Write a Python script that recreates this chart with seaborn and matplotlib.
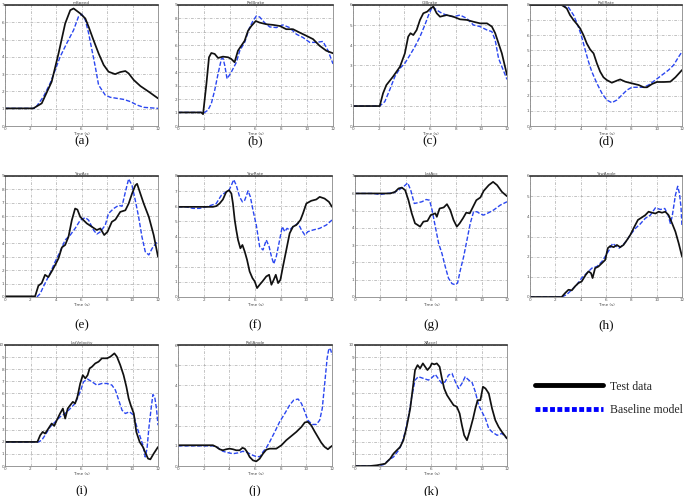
import numpy as np
import pandas as pd
import matplotlib
matplotlib.use("Agg")
import matplotlib.pyplot as plt
from matplotlib.lines import Line2D
import seaborn as sns

# ---------------- data (x in time-grid units 0..6, y in grid units) ----------------
panel_letters = ["a", "b", "c", "d", "e", "f", "g", "h", "i", "j", "k"]
panel_titles = ["mSpeed", "RelBrake", "GiBrake", "RollRate", "YawAcc", "YawRate",
                "LatAcc", "YawAngle", "LatVelocity", "RollAngle", "XAccel"]
y_max = [7, 9, 6, 8, 9, 8, 7, 6, 10, 6, 10]
x_tick_labels = ["0", "2", "4", "6", "8", "10", "12"]
x_label = "Time (s)"

a_x_test = [0, 1.11, 1.44, 1.83, 2.10, 2.36, 2.56, 2.69, 2.95, 3.15, 3.28, 3.47, 3.67, 3.87, 4.06, 4.32, 4.52, 4.72, 4.85, 5.05, 5.31, 5.64, 6.0]
a_y_test = [1.02, 1.02, 1.31, 2.56, 4.2, 5.93, 6.7, 6.8, 6.51, 6.22, 5.74, 4.97, 4.2, 3.53, 3.14, 3.0, 3.12, 3.18, 3.04, 2.66, 2.31, 1.98, 1.6]
a_x_base = [0, 1.18, 1.51, 1.77, 1.97, 2.16, 2.42, 2.69, 2.88, 3.01, 3.15, 3.28, 3.41, 3.54, 3.67, 3.8, 3.93, 4.13, 4.39, 4.65, 4.92, 5.18, 5.44, 6.0]
a_y_base = [1.02, 1.02, 1.7, 2.47, 3.24, 4.0, 4.78, 5.55, 6.32, 6.47, 6.13, 5.36, 4.39, 3.43, 2.37, 2.08, 1.79, 1.66, 1.6, 1.54, 1.41, 1.21, 1.08, 1.02]

b_x_test = [0, 0.9, 0.97, 1.1, 1.2, 1.29, 1.42, 1.55, 1.74, 1.94, 2.06, 2.19, 2.32, 2.45, 2.58, 2.71, 2.84, 3.01, 3.16, 3.42, 3.68, 3.94, 4.19, 4.45, 4.71, 4.97, 5.23, 5.48, 5.74, 6.0]
b_y_test = [1.01, 1.01, 0.88, 3.14, 5.11, 5.43, 5.36, 5.06, 5.16, 5.11, 4.99, 4.74, 5.6, 5.97, 6.34, 7.08, 7.44, 7.81, 7.69, 7.57, 7.52, 7.44, 7.2, 7.2, 6.95, 6.71, 6.46, 5.97, 5.6, 5.41]
b_x_base = [0, 1.03, 1.16, 1.29, 1.42, 1.55, 1.68, 1.74, 1.81, 1.9, 2.06, 2.26, 2.39, 2.58, 2.77, 2.9, 3.03, 3.16, 3.35, 3.55, 3.81, 4.06, 4.32, 4.58, 4.84, 5.1, 5.35, 5.61, 5.81, 6.0]
b_y_base = [1.01, 1.01, 1.18, 1.67, 2.65, 3.88, 4.99, 5.06, 4.5, 3.51, 4.0, 4.74, 5.6, 6.22, 7.32, 7.81, 8.18, 8.11, 7.69, 7.37, 7.32, 7.52, 7.32, 6.83, 6.58, 6.22, 6.22, 6.29, 5.6, 4.62]

c_x_test = [0, 1.04, 1.17, 1.3, 1.56, 1.83, 2.02, 2.15, 2.24, 2.35, 2.48, 2.61, 2.74, 2.89, 3.02, 3.13, 3.26, 3.39, 3.65, 3.91, 4.17, 4.43, 4.69, 4.95, 5.22, 5.41, 5.54, 5.67, 5.8, 6.0]
c_y_test = [0.99, 0.99, 1.62, 2.03, 2.45, 2.94, 3.6, 4.43, 4.6, 4.51, 4.76, 5.26, 5.59, 5.67, 5.83, 5.92, 5.59, 5.42, 5.5, 5.42, 5.29, 5.26, 5.17, 5.09, 5.09, 4.93, 4.6, 4.1, 3.6, 2.53]
c_x_base = [0, 1.04, 1.24, 1.43, 1.63, 1.83, 2.02, 2.22, 2.41, 2.61, 2.8, 2.97, 3.1, 3.26, 3.46, 3.65, 3.91, 4.17, 4.43, 4.69, 4.95, 5.22, 5.41, 5.54, 5.67, 5.8, 6.0]
c_y_base = [0.99, 0.99, 1.21, 1.79, 2.45, 2.86, 3.11, 3.52, 3.93, 4.43, 5.01, 5.59, 5.92, 5.75, 5.59, 5.5, 5.42, 5.5, 5.34, 5.01, 4.93, 4.76, 4.68, 4.26, 3.36, 2.94, 2.31]

d_x_test = [0, 1.25, 1.45, 1.58, 1.72, 1.85, 1.98, 2.11, 2.24, 2.37, 2.51, 2.64, 2.77, 2.9, 3.03, 3.23, 3.43, 3.56, 3.76, 4.02, 4.29, 4.49, 4.62, 4.82, 5.01, 5.28, 5.54, 5.74, 6.0]
d_y_test = [8.0, 8.0, 7.78, 7.33, 7.0, 6.74, 6.45, 6.01, 5.46, 5.07, 4.8, 4.14, 3.59, 3.22, 3.04, 2.86, 3.0, 3.08, 2.93, 2.82, 2.71, 2.56, 2.56, 2.78, 2.91, 2.91, 2.93, 3.22, 3.7]
d_x_base = [0, 1.25, 1.52, 1.72, 1.91, 2.04, 2.18, 2.31, 2.44, 2.64, 2.84, 3.03, 3.23, 3.43, 3.63, 3.83, 4.02, 4.29, 4.49, 4.68, 4.95, 5.21, 5.47, 5.67, 5.87, 6.0]
d_y_base = [8.0, 8.0, 7.84, 7.33, 6.56, 5.9, 5.02, 4.25, 3.59, 2.82, 2.16, 1.72, 1.54, 1.72, 2.05, 2.38, 2.56, 2.56, 2.56, 2.71, 3.04, 3.37, 3.7, 4.03, 4.58, 4.91]

e_x_test = [0, 1.18, 1.31, 1.44, 1.57, 1.7, 1.83, 1.97, 2.1, 2.23, 2.36, 2.49, 2.62, 2.75, 2.84, 2.95, 3.08, 3.21, 3.41, 3.6, 3.74, 3.89, 4.02, 4.19, 4.33, 4.52, 4.72, 4.85, 4.98, 5.11, 5.18, 5.31, 5.44, 5.64, 5.83, 6.0]
e_y_test = [0.05, 0.05, 0.84, 1.03, 1.65, 1.48, 1.9, 2.39, 2.88, 3.69, 3.87, 4.48, 5.71, 6.58, 6.5, 5.96, 5.71, 5.47, 5.22, 4.98, 5.1, 4.61, 4.85, 5.59, 5.76, 6.33, 6.45, 6.95, 7.68, 8.3, 8.42, 7.68, 6.95, 5.96, 4.61, 3.0]
e_x_base = [0, 1.25, 1.38, 1.51, 1.64, 1.77, 1.97, 2.16, 2.36, 2.56, 2.75, 2.95, 3.15, 3.28, 3.47, 3.6, 3.74, 3.93, 4.06, 4.26, 4.46, 4.59, 4.72, 4.85, 4.98, 5.11, 5.24, 5.37, 5.5, 5.64, 5.77, 6.0]
e_y_base = [0, 0, 0.25, 0.79, 1.28, 1.77, 2.64, 3.37, 4.24, 4.61, 5.1, 5.71, 5.91, 5.71, 4.98, 4.68, 4.85, 5.34, 6.21, 6.58, 6.82, 6.75, 7.81, 8.79, 8.3, 7.19, 5.96, 4.48, 3.37, 3.13, 3.62, 4.19]

f_x_test = [0, 1.36, 1.49, 1.62, 1.75, 1.88, 1.99, 2.08, 2.14, 2.21, 2.27, 2.34, 2.43, 2.51, 2.6, 2.69, 2.79, 2.9, 2.99, 3.08, 3.18, 3.29, 3.44, 3.55, 3.64, 3.73, 3.81, 3.9, 3.99, 4.09, 4.22, 4.35, 4.48, 4.61, 4.77, 4.87, 5.0, 5.19, 5.39, 5.52, 5.71, 5.88, 6.0]
f_y_test = [5.96, 5.96, 6.01, 6.18, 6.45, 6.95, 7.06, 6.84, 6.18, 5.09, 4.43, 3.77, 3.22, 3.44, 3.0, 2.46, 1.69, 1.25, 1.03, 0.59, 0.81, 1.03, 1.36, 1.47, 0.81, 1.14, 1.47, 0.92, 1.14, 2.02, 3.11, 4.21, 4.65, 4.76, 5.09, 5.53, 6.18, 6.36, 6.45, 6.62, 6.51, 6.29, 5.96]
f_x_base = [0, 0.32, 0.58, 0.84, 1.1, 1.3, 1.49, 1.69, 1.88, 1.99, 2.08, 2.17, 2.27, 2.4, 2.51, 2.6, 2.73, 2.82, 2.92, 3.05, 3.18, 3.31, 3.44, 3.55, 3.64, 3.73, 3.83, 3.96, 4.06, 4.16, 4.25, 4.35, 4.48, 4.68, 4.81, 4.94, 5.06, 5.26, 5.52, 5.78, 6.0]
f_y_base = [5.96, 5.96, 5.86, 5.86, 5.96, 6.07, 6.18, 6.73, 6.95, 7.06, 7.39, 7.76, 7.39, 6.62, 6.29, 6.4, 7.02, 6.62, 5.75, 4.76, 3.33, 3.11, 3.77, 3.33, 2.68, 2.19, 2.68, 3.77, 4.65, 4.32, 4.54, 4.43, 4.65, 4.87, 4.43, 4.1, 4.32, 4.43, 4.54, 4.76, 5.09]

g_x_test = [0, 1.39, 1.58, 1.72, 1.85, 1.98, 2.11, 2.24, 2.37, 2.47, 2.57, 2.7, 2.86, 2.99, 3.17, 3.23, 3.34, 3.5, 3.63, 3.76, 3.89, 4.02, 4.13, 4.26, 4.39, 4.53, 4.66, 4.79, 4.95, 5.08, 5.28, 5.45, 5.61, 5.8, 6.0]
g_y_test = [5.99, 5.99, 6.08, 6.28, 6.33, 6.18, 5.6, 4.84, 4.26, 4.17, 4.07, 4.36, 4.4, 4.74, 4.84, 4.64, 5.12, 5.18, 5.37, 5.03, 4.45, 4.07, 4.26, 4.55, 4.88, 4.84, 5.22, 5.6, 5.76, 6.14, 6.47, 6.66, 6.47, 6.08, 5.83]
g_x_base = [0, 0.73, 0.99, 1.25, 1.52, 1.72, 1.91, 2.08, 2.2, 2.34, 2.47, 2.64, 2.81, 2.94, 3.03, 3.17, 3.3, 3.43, 3.56, 3.69, 3.83, 3.96, 4.05, 4.16, 4.29, 4.42, 4.55, 4.68, 4.82, 4.95, 5.08, 5.28, 5.47, 5.74, 6.0]
g_y_base = [5.99, 5.99, 5.93, 5.99, 6.03, 6.18, 6.37, 6.6, 6.18, 5.41, 5.45, 5.51, 5.64, 5.6, 5.12, 4.07, 3.11, 2.53, 1.77, 1.09, 0.77, 0.71, 0.81, 1.57, 2.34, 3.3, 4.26, 4.93, 4.93, 4.8, 4.74, 4.88, 5.03, 5.32, 5.51]

h_x_test = [0, 1.25, 1.39, 1.52, 1.65, 1.78, 1.91, 2.04, 2.2, 2.31, 2.41, 2.47, 2.57, 2.7, 2.84, 2.97, 3.07, 3.17, 3.3, 3.43, 3.56, 3.69, 3.83, 3.96, 4.09, 4.26, 4.42, 4.55, 4.68, 4.82, 4.95, 5.08, 5.21, 5.34, 5.47, 5.61, 5.74, 5.87, 6.0]
h_y_test = [0, 0, 0.2, 0.36, 0.33, 0.53, 0.69, 0.77, 1.1, 1.27, 1.18, 0.94, 1.43, 1.51, 1.68, 1.84, 2.42, 2.53, 2.47, 2.58, 2.47, 2.58, 2.83, 3.08, 3.41, 3.82, 3.95, 4.06, 4.23, 4.18, 4.14, 4.23, 4.18, 4.23, 4.06, 3.65, 3.24, 2.66, 2.01]
h_x_base = [0, 1.25, 1.45, 1.65, 1.85, 2.04, 2.24, 2.44, 2.64, 2.84, 2.97, 3.13, 3.26, 3.39, 3.52, 3.66, 3.79, 3.96, 4.16, 4.35, 4.55, 4.75, 4.95, 5.15, 5.32, 5.45, 5.54, 5.61, 5.67, 5.74, 5.83, 5.9, 5.96, 6.0]
h_y_base = [0, 0, 0.12, 0.36, 0.61, 0.94, 1.18, 1.43, 1.51, 1.76, 2.01, 2.34, 2.66, 2.53, 2.42, 2.58, 2.75, 3.08, 3.4, 3.62, 3.9, 4.06, 4.42, 4.34, 4.39, 4.06, 3.65, 3.98, 4.47, 5.05, 5.49, 5.13, 4.47, 3.49]

i_x_test = [0, 1.27, 1.38, 1.48, 1.57, 1.7, 1.83, 1.93, 2.03, 2.16, 2.27, 2.36, 2.46, 2.56, 2.66, 2.75, 2.84, 2.95, 3.05, 3.15, 3.24, 3.32, 3.41, 3.54, 3.67, 3.8, 4.0, 4.13, 4.29, 4.39, 4.52, 4.65, 4.76, 4.85, 4.94, 5.05, 5.15, 5.28, 5.41, 5.52, 5.61, 5.7, 5.83, 6.0]
i_y_test = [1.99, 1.99, 2.54, 2.82, 2.68, 3.09, 3.51, 3.31, 3.78, 4.34, 4.75, 3.92, 4.75, 5.03, 5.3, 5.17, 5.72, 6.82, 7.51, 7.24, 7.51, 8.07, 8.2, 8.48, 8.62, 8.9, 8.9, 9.03, 9.31, 9.03, 8.34, 7.51, 6.55, 5.58, 4.97, 4.34, 2.82, 1.99, 1.57, 1.02, 0.61, 0.55, 1.02, 1.57]
i_x_base = [0, 1.31, 1.44, 1.57, 1.77, 1.97, 2.16, 2.36, 2.56, 2.75, 2.95, 3.08, 3.24, 3.41, 3.6, 3.8, 4.0, 4.19, 4.33, 4.46, 4.59, 4.72, 4.88, 5.05, 5.15, 5.28, 5.41, 5.5, 5.57, 5.64, 5.73, 5.8, 5.87, 5.94, 6.0]
i_y_base = [1.99, 1.99, 2.13, 2.54, 3.23, 3.65, 4.06, 4.34, 4.75, 5.17, 6.13, 6.96, 7.18, 6.96, 6.69, 6.82, 6.82, 6.69, 6.27, 5.44, 4.61, 4.34, 4.48, 4.2, 3.37, 2.54, 1.71, 0.75, 1.44, 3.09, 4.75, 5.91, 5.72, 4.75, 3.37]

j_x_test = [0, 1.36, 1.49, 1.62, 1.75, 1.88, 2.01, 2.14, 2.27, 2.4, 2.51, 2.6, 2.69, 2.79, 2.92, 3.05, 3.18, 3.31, 3.44, 3.57, 3.83, 4.03, 4.22, 4.42, 4.61, 4.81, 4.94, 5.06, 5.19, 5.32, 5.45, 5.58, 5.71, 5.84, 6.0]
j_y_test = [1.03, 1.03, 0.95, 0.83, 0.78, 0.83, 0.86, 0.83, 0.78, 0.78, 0.9, 0.86, 0.7, 0.45, 0.28, 0.23, 0.36, 0.61, 0.81, 0.86, 0.86, 1.03, 1.28, 1.49, 1.69, 1.94, 2.16, 2.19, 2.02, 1.72, 1.44, 1.16, 0.95, 0.83, 1.0]
j_x_base = [0, 1.36, 1.56, 1.75, 1.95, 2.14, 2.34, 2.53, 2.73, 2.92, 3.08, 3.21, 3.31, 3.44, 3.57, 3.77, 3.96, 4.16, 4.35, 4.51, 4.68, 4.81, 4.94, 5.06, 5.23, 5.39, 5.52, 5.62, 5.71, 5.81, 5.88, 5.95, 6.0]
j_y_base = [1.0, 1.0, 0.9, 0.73, 0.66, 0.61, 0.65, 0.73, 0.65, 0.53, 0.45, 0.48, 0.7, 0.9, 1.19, 1.69, 2.19, 2.6, 3.02, 3.27, 3.32, 3.1, 2.69, 2.27, 2.06, 2.06, 2.27, 2.85, 4.01, 5.34, 5.84, 5.76, 5.51]

k_x_test = [0, 0.59, 0.86, 1.19, 1.39, 1.52, 1.65, 1.78, 1.91, 2.04, 2.18, 2.28, 2.37, 2.47, 2.57, 2.68, 2.77, 2.86, 2.97, 3.03, 3.13, 3.23, 3.34, 3.43, 3.52, 3.63, 3.76, 3.89, 4.02, 4.13, 4.22, 4.31, 4.42, 4.52, 4.66, 4.75, 4.84, 4.95, 5.05, 5.15, 5.28, 5.41, 5.54, 5.67, 5.8, 6.0]
k_y_test = [0, 0, 0.06, 0.19, 0.61, 1.02, 1.3, 1.57, 2.13, 3.23, 4.75, 6.41, 7.93, 8.34, 8.07, 8.48, 8.2, 7.93, 8.2, 8.48, 8.4, 8.48, 8.2, 7.24, 6.41, 5.86, 5.44, 5.03, 4.89, 4.34, 3.37, 2.54, 2.13, 2.82, 3.92, 4.75, 5.44, 5.44, 6.55, 6.41, 6.0, 4.75, 3.78, 3.23, 2.82, 2.27]
k_x_base = [0, 0.86, 1.12, 1.32, 1.52, 1.72, 1.85, 1.98, 2.11, 2.24, 2.37, 2.5, 2.7, 2.9, 3.03, 3.17, 3.3, 3.43, 3.56, 3.69, 3.83, 3.96, 4.09, 4.22, 4.35, 4.49, 4.62, 4.75, 4.88, 5.01, 5.15, 5.28, 5.41, 5.61, 5.8, 6.0]
k_y_base = [0, 0, 0.11, 0.47, 0.75, 1.3, 1.85, 2.82, 4.06, 5.72, 7.1, 7.38, 7.24, 7.1, 7.29, 7.57, 7.18, 6.82, 6.96, 7.51, 7.65, 6.96, 6.41, 6.82, 7.38, 7.1, 6.91, 6.13, 5.03, 4.48, 3.92, 3.09, 2.82, 2.54, 2.69, 2.27]

series = {
    "a": (a_x_test, a_y_test, a_x_base, a_y_base),
    "b": (b_x_test, b_y_test, b_x_base, b_y_base),
    "c": (c_x_test, c_y_test, c_x_base, c_y_base),
    "d": (d_x_test, d_y_test, d_x_base, d_y_base),
    "e": (e_x_test, e_y_test, e_x_base, e_y_base),
    "f": (f_x_test, f_y_test, f_x_base, f_y_base),
    "g": (g_x_test, g_y_test, g_x_base, g_y_base),
    "h": (h_x_test, h_y_test, h_x_base, h_y_base),
    "i": (i_x_test, i_y_test, i_x_base, i_y_base),
    "j": (j_x_test, j_y_test, j_x_base, j_y_base),
    "k": (k_x_test, k_y_test, k_x_base, k_y_base),
}
legend_labels = ["Test data", "Baseline model"]

# ---------------- layout (pixel boxes: left, right, top, bottom) ----------------
W, H = 685, 496
boxes = {
    "a": (5, 158, 5, 126), "b": (178, 333, 5, 126), "c": (353, 507, 5, 126), "d": (530, 682, 5, 126),
    "e": (5, 158, 176, 297), "f": (178, 332, 176, 297), "g": (355, 507, 176, 297), "h": (530, 682, 176, 297),
    "i": (5, 158, 345, 466), "j": (178, 332, 345, 466), "k": (355, 507, 345, 466),
}
label_y = {"a": 141, "b": 141, "c": 141, "d": 141, "e": 325, "f": 325, "g": 325, "h": 325,
           "i": 491, "j": 491, "k": 491}

sns.set_theme(style="white")
plt.rcParams["font.family"] = ["DejaVu Sans"]

fig = plt.figure(figsize=(W / 100, H / 100), dpi=100)
fig.patch.set_facecolor("white")

BLACK = "#111111"
BLUE = "#2a46f0"
tiny = 3.0

for letter, title, ymax in zip(panel_letters, panel_titles, y_max):
    l, r, t, b = boxes[letter]
    ax = fig.add_axes([l / W, 1 - b / H, (r - l) / W, (b - t) / H])
    xt, yt, xb, yb = series[letter]
    df_t = pd.DataFrame({"x": xt, "y": yt})
    df_b = pd.DataFrame({"x": xb, "y": yb})
    sns.lineplot(data=df_b, x="x", y="y", ax=ax, color=BLUE, linewidth=1.0,
                 linestyle=(0, (3.2, 1.4)), estimator=None, sort=False)
    sns.lineplot(data=df_t, x="x", y="y", ax=ax, color=BLACK, linewidth=1.25,
                 estimator=None, sort=False)
    ax.set_xlim(0, 6)
    ax.set_ylim(0, ymax)
    ax.set_xticks(range(7))
    ax.set_xticklabels(x_tick_labels)
    ax.set_yticks(range(ymax + 1))
    ax.set_yticklabels([str(v) for v in range(ymax + 1)])
    ax.tick_params(axis="both", labelsize=tiny, length=1.5, width=0.4, pad=0.8,
                   direction="in", colors="#555555")
    ax.grid(True, color="#ababab", linewidth=0.5, linestyle=(0, (4, 2, 1, 2)))
    ax.set_xlabel(x_label, fontsize=tiny, labelpad=0.5, color="#444444")
    ax.set_ylabel("")
    ax.set_title(title, fontsize=tiny, pad=1.0, color="#444444")
    for side in ["left", "right", "bottom"]:
        ax.spines[side].set_color("#888888")
        ax.spines[side].set_linewidth(0.6)
    ax.spines["top"].set_color("#333333")
    ax.spines["top"].set_linewidth(1.2)
    ax.set_facecolor("white")
    fig.text((l + r) / 2 / W, 1 - label_y[letter] / H, f"({letter})",
             ha="center", va="center", fontsize=9.5, family="Liberation Serif", color="#111111")

handles = [Line2D([], [], color="black", linewidth=3.5),
           Line2D([], [], color="#0000ff", linewidth=3.5, linestyle=(0, (1.0, 0.5)))]
fig.legend(handles, legend_labels, loc="upper left",
           bbox_to_anchor=(524 / W, 1 - 370 / H), frameon=False, handlelength=5.8,
           handletextpad=0.6, labelspacing=1.0,
           prop={"family": "Liberation Serif", "size": 8.5})

fig.savefig("out.png", dpi=100, facecolor="white")
